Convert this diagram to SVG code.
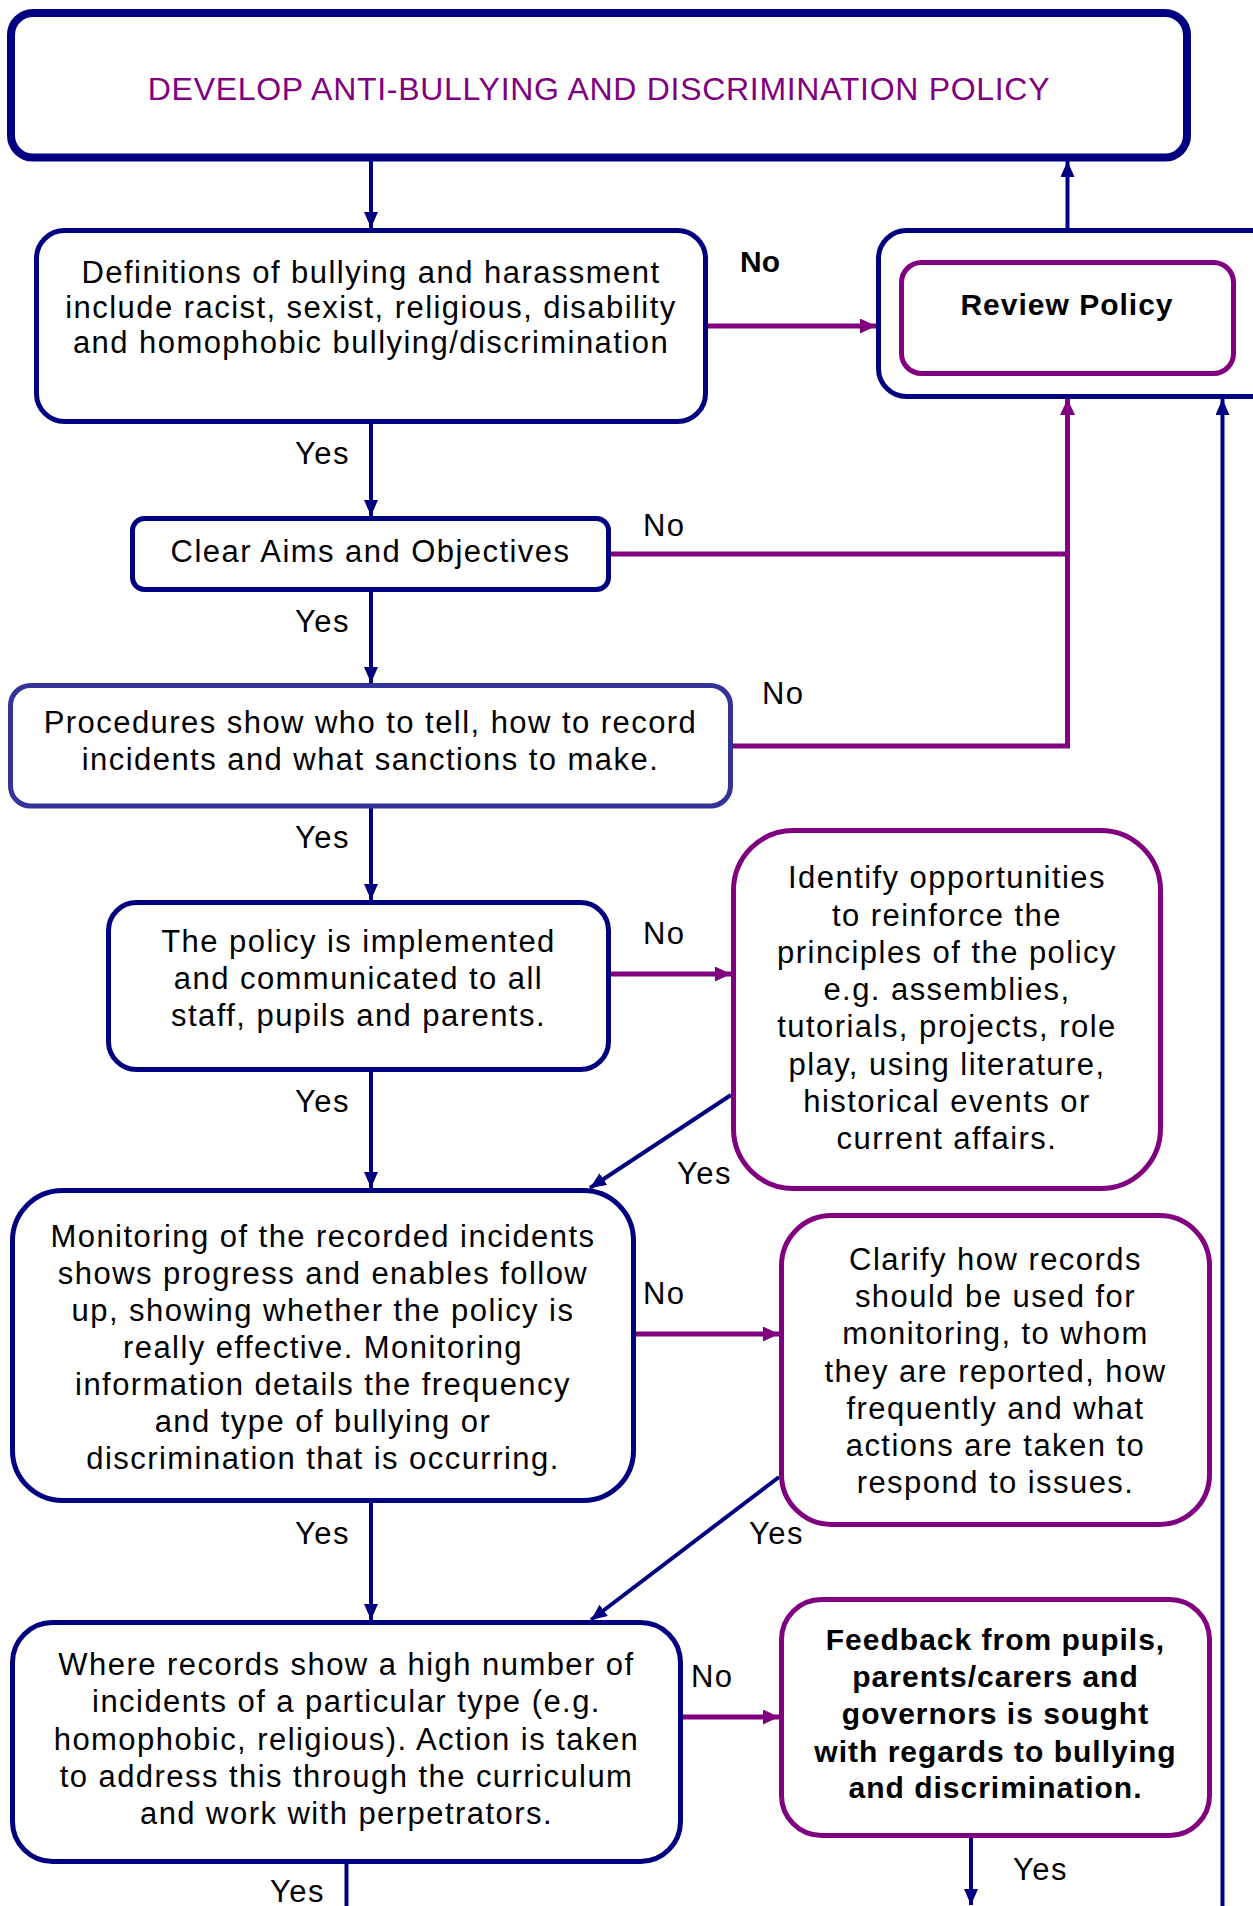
<svg xmlns="http://www.w3.org/2000/svg" width="1253" height="1906" viewBox="0 0 1253 1906">
<style>
  .box{fill:#fff;stroke:#000080;stroke-width:5}
  .pbox{fill:#fff;stroke:#800080;stroke-width:5}
  .t{font-family:"Liberation Sans",Arial,Helvetica,sans-serif;font-size:31px;fill:#000;letter-spacing:1.45px;text-anchor:middle}
  .b{font-family:"Liberation Sans",Arial,Helvetica,sans-serif;font-size:30px;font-weight:bold;fill:#000;letter-spacing:1px;text-anchor:middle}
  .lbl{font-family:"Liberation Sans",Arial,Helvetica,sans-serif;font-size:31px;fill:#000;letter-spacing:1.45px}
  .nv{fill:none;stroke:#000080;stroke-width:4}
  .pp{fill:none;stroke:#800080;stroke-width:5}
</style>
<defs>
  <marker id="an" markerUnits="userSpaceOnUse" markerWidth="16" markerHeight="14" refX="16" refY="7" orient="auto">
    <path d="M0,0 L16,7 L0,14 z" fill="#000080"/>
  </marker>
  <marker id="ap" markerUnits="userSpaceOnUse" markerWidth="16" markerHeight="15" refX="16" refY="7.5" orient="auto">
    <path d="M0,0 L16,7.5 L0,15 z" fill="#800080"/>
  </marker>
</defs>
<rect width="1253" height="1906" fill="#fff"/>

<g id="connectors">
  <line class="nv" x1="371" y1="161" x2="371" y2="228" marker-end="url(#an)"/>
  <line class="nv" x1="1067.5" y1="228" x2="1067.5" y2="161" marker-end="url(#an)"/>
  <line class="pp" x1="708" y1="326" x2="876" y2="326" marker-end="url(#ap)"/>
  <line class="nv" x1="371" y1="424" x2="371" y2="516" marker-end="url(#an)"/>
  <polyline class="pp" points="611,554 1067.5,554"/>
  <polyline class="pp" points="733,746 1067.5,746 1067.5,399" marker-end="url(#ap)"/>
  <line class="nv" x1="371" y1="592" x2="371" y2="683" marker-end="url(#an)"/>
  <line class="nv" x1="371" y1="808" x2="371" y2="900" marker-end="url(#an)"/>
  <line class="pp" x1="611" y1="974" x2="731" y2="974" marker-end="url(#ap)"/>
  <line class="nv" x1="371" y1="1072" x2="371" y2="1188" marker-end="url(#an)"/>
  <line class="nv" x1="731" y1="1095" x2="590" y2="1188" marker-end="url(#an)"/>
  <line class="pp" x1="636" y1="1334" x2="779" y2="1334" marker-end="url(#ap)"/>
  <line class="nv" x1="371" y1="1503" x2="371" y2="1620" marker-end="url(#an)"/>
  <line class="nv" x1="779" y1="1477" x2="591" y2="1620" marker-end="url(#an)"/>
  <line class="pp" x1="683" y1="1717" x2="779" y2="1717" marker-end="url(#ap)"/>
  <line class="nv" x1="346.5" y1="1864" x2="346.5" y2="1906"/>
  <line class="nv" x1="971" y1="1838" x2="971" y2="1905" marker-end="url(#an)"/>
  <line class="nv" x1="1222.5" y1="1906" x2="1222.5" y2="399" marker-end="url(#an)"/>

  <text class="lbl" x="740" y="272" style="font-weight:bold;font-size:30px;letter-spacing:0">No</text>
  <text class="lbl" x="295" y="464">Yes</text>
  <text class="lbl" x="643" y="536">No</text>
  <text class="lbl" x="295" y="632">Yes</text>
  <text class="lbl" x="762" y="704">No</text>
  <text class="lbl" x="295" y="848">Yes</text>
  <text class="lbl" x="643" y="944">No</text>
  <text class="lbl" x="295" y="1112">Yes</text>
  <text class="lbl" x="677" y="1184">Yes</text>
  <text class="lbl" x="643" y="1304">No</text>
  <text class="lbl" x="295" y="1544">Yes</text>
  <text class="lbl" x="749" y="1544">Yes</text>
  <text class="lbl" x="691" y="1687">No</text>
  <text class="lbl" x="1013" y="1880">Yes</text>
  <text class="lbl" x="270" y="1902">Yes</text>
</g>

<g id="node-develop">
  <rect x="11" y="13" width="1176" height="144.5" rx="22" fill="#fff" stroke="#000080" stroke-width="8"/>
  <text x="599" y="100" style="font-family:'Liberation Sans',Arial,sans-serif;font-size:32px;fill:#800080;letter-spacing:0.7px;text-anchor:middle">DEVELOP ANTI-BULLYING AND DISCRIMINATION POLICY</text>
</g>

<g id="node-definitions">
  <rect class="box" x="36.5" y="230.5" width="669" height="191" rx="28"/>
  <text class="t" x="371" y="283">Definitions of bullying and harassment</text>
  <text class="t" x="371" y="318">include racist, sexist, religious, disability</text>
  <text class="t" x="371" y="353">and homophobic bullying/discrimination</text>
</g>

<g id="node-review">
  <rect class="box" x="878.5" y="230.5" width="400" height="166" rx="28"/>
  <rect class="pbox" x="901.5" y="262.5" width="332" height="111" rx="20"/>
  <text class="b" x="1067" y="315">Review Policy</text>
</g>

<g id="node-aims">
  <rect class="box" x="132.5" y="518.5" width="476" height="71" rx="12"/>
  <text class="t" x="370.5" y="562">Clear Aims and Objectives</text>
</g>

<g id="node-procedures">
  <rect x="10.5" y="685.5" width="720" height="120.5" rx="20" fill="#fff" stroke="#333399" stroke-width="5"/>
  <text class="t" x="370.5" y="733">Procedures show who to tell, how to record</text>
  <text class="t" x="370.5" y="770">incidents and what sanctions to make.</text>
</g>

<g id="node-implemented">
  <rect class="box" x="108.5" y="902.5" width="500" height="167" rx="28"/>
  <text class="t" x="358.5" y="952">The policy is implemented</text>
  <text class="t" x="358.5" y="989">and communicated to all</text>
  <text class="t" x="358.5" y="1026">staff, pupils and parents.</text>
</g>

<g id="node-identify">
  <rect class="pbox" x="733.5" y="830.5" width="427" height="358" rx="60"/>
  <text class="t" x="947" y="888">Identify opportunities</text>
  <text class="t" x="947" y="926">to reinforce the</text>
  <text class="t" x="947" y="963">principles of the policy</text>
  <text class="t" x="947" y="1000">e.g. assemblies,</text>
  <text class="t" x="947" y="1037">tutorials, projects, role</text>
  <text class="t" x="947" y="1075">play, using literature,</text>
  <text class="t" x="947" y="1112">historical events or</text>
  <text class="t" x="947" y="1149">current affairs.</text>
</g>

<g id="node-monitoring">
  <rect class="box" x="12.5" y="1190.5" width="621" height="310" rx="50"/>
  <text class="t" x="323" y="1247">Monitoring of the recorded incidents</text>
  <text class="t" x="323" y="1284">shows progress and enables follow</text>
  <text class="t" x="323" y="1321">up, showing whether the policy is</text>
  <text class="t" x="323" y="1358">really effective. Monitoring</text>
  <text class="t" x="323" y="1395">information details the frequency</text>
  <text class="t" x="323" y="1432">and type of bullying or</text>
  <text class="t" x="323" y="1469">discrimination that is occurring.</text>
</g>

<g id="node-clarify">
  <rect class="pbox" x="781.5" y="1215.5" width="428" height="309" rx="50"/>
  <text class="t" x="995.5" y="1270">Clarify how records</text>
  <text class="t" x="995.5" y="1307">should be used for</text>
  <text class="t" x="995.5" y="1344">monitoring, to whom</text>
  <text class="t" x="995.5" y="1382">they are reported, how</text>
  <text class="t" x="995.5" y="1419">frequently and what</text>
  <text class="t" x="995.5" y="1456">actions are taken to</text>
  <text class="t" x="995.5" y="1493">respond to issues.</text>
</g>

<g id="node-where">
  <rect class="box" x="12.5" y="1622.5" width="668" height="239" rx="40"/>
  <text class="t" x="346.5" y="1675">Where records show a high number of</text>
  <text class="t" x="346.5" y="1712">incidents of a particular type (e.g.</text>
  <text class="t" x="346.5" y="1750">homophobic, religious). Action is taken</text>
  <text class="t" x="346.5" y="1787">to address this through the curriculum</text>
  <text class="t" x="346.5" y="1824">and work with perpetrators.</text>
</g>

<g id="node-feedback">
  <rect class="pbox" x="781.5" y="1599.5" width="428" height="236" rx="40"/>
  <text class="b" x="995.5" y="1650">Feedback from pupils,</text>
  <text class="b" x="995.5" y="1687">parents/carers and</text>
  <text class="b" x="995.5" y="1724">governors is sought</text>
  <text class="b" x="995.5" y="1762">with regards to bullying</text>
  <text class="b" x="995.5" y="1798">and discrimination.</text>
</g>
</svg>
